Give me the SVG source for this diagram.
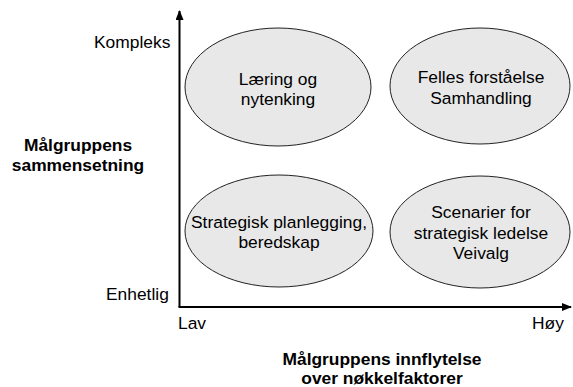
<svg xmlns="http://www.w3.org/2000/svg" width="573" height="387" viewBox="0 0 573 387">
<style>
text{font-family:"Liberation Sans",Arial,sans-serif;font-size:17.4px;fill:#000}
.b{font-weight:bold}
.c{text-anchor:middle}
.e{fill:#e8e8e8;stroke:#222;stroke-width:1}
.ax{stroke:#000;stroke-width:2;fill:none}
</style>
<defs>
<marker id="ah" viewBox="0 0 10 8" refX="9" refY="4" markerWidth="10" markerHeight="8" markerUnits="userSpaceOnUse" orient="auto">
<path d="M0,0 L10,4 L0,8 Z" fill="#000"/>
</marker>
</defs>
<rect width="573" height="387" fill="#fff"/>
<g id="connectors">
<path class="ax" d="M179.5,307 L179.5,11" marker-end="url(#ah)"/>
<path class="ax" d="M178.5,307 L571,307" marker-end="url(#ah)"/>
</g>
<g id="n1"><ellipse class="e" cx="278" cy="87" rx="93" ry="59"/>
<text class="c" x="278" y="85">Læring og</text><text class="c" x="278" y="105">nytenking</text></g>
<g id="n2"><ellipse class="e" cx="480" cy="86" rx="90" ry="58"/>
<text class="c" x="481" y="83">Felles forståelse</text><text class="c" x="481" y="104">Samhandling</text></g>
<g id="n3"><ellipse class="e" cx="279" cy="231" rx="94" ry="56"/>
<text class="c" x="279" y="228">Strategisk planlegging,</text><text class="c" x="279" y="248">beredskap</text></g>
<g id="n4"><ellipse class="e" cx="480" cy="232" rx="90" ry="56"/>
<text class="c" x="481" y="218">Scenarier for</text><text class="c" x="481" y="239">strategisk ledelse</text><text class="c" x="481" y="259">Veivalg</text></g>
<g id="labels">
<text x="94" y="48">Kompleks</text>
<text x="106" y="300">Enhetlig</text>
<text x="178" y="329">Lav</text>
<text x="532" y="329">Høy</text>
<text class="b c" x="78" y="151">Målgruppens</text>
<text class="b c" x="78" y="171">sammensetning</text>
<text class="b c" x="382" y="365">Målgruppens innflytelse</text>
<text class="b c" x="382" y="384">over nøkkelfaktorer</text>
</g>
</svg>
